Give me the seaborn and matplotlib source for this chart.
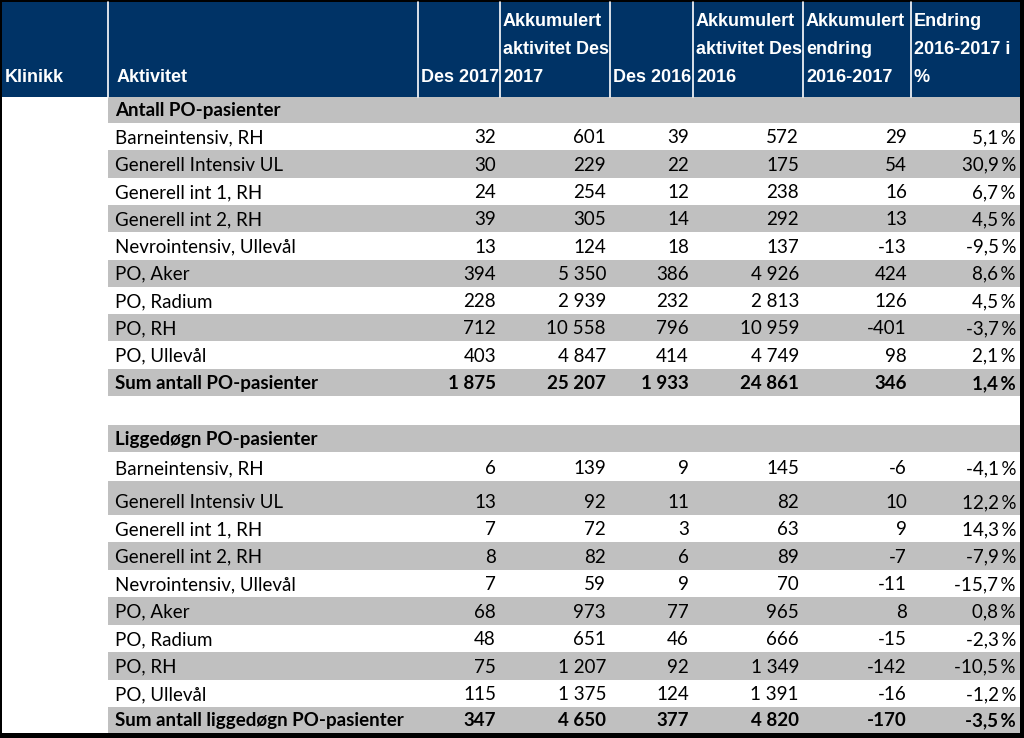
import seaborn as sns
import matplotlib.pyplot as plt
from matplotlib.patches import Rectangle
from matplotlib import font_manager

# data
activities = ["Barneintensiv, RH", "Generell Intensiv UL", "Generell int 1, RH",
              "Generell int 2, RH", "Nevrointensiv, Ullevål", "PO, Aker",
              "PO, Radium", "PO, RH", "PO, Ullevål"]

antall_des2017 = [32, 30, 24, 39, 13, 394, 228, 712, 403]
antall_akk2017 = [601, 229, 254, 305, 124, 5350, 2939, 10558, 4847]
antall_des2016 = [39, 22, 12, 14, 18, 386, 232, 796, 414]
antall_akk2016 = [572, 175, 238, 292, 137, 4926, 2813, 10959, 4749]
antall_endring = [29, 54, 16, 13, -13, 424, 126, -401, 98]
antall_pct = [5.1, 30.9, 6.7, 4.5, -9.5, 8.6, 4.5, -3.7, 2.1]
antall_sum = [1875, 25207, 1933, 24861, 346, 1.4]

ligg_des2017 = [6, 13, 7, 8, 7, 68, 48, 75, 115]
ligg_akk2017 = [139, 92, 72, 82, 59, 973, 651, 1207, 1375]
ligg_des2016 = [9, 11, 3, 6, 9, 77, 46, 92, 124]
ligg_akk2016 = [145, 82, 63, 89, 70, 965, 666, 1349, 1391]
ligg_endring = [-6, 10, 9, -7, -11, 8, -15, -142, -16]
ligg_pct = [-4.1, 12.2, 14.3, -7.9, -15.7, 0.8, -2.3, -10.5, -1.2]
ligg_sum = [347, 4650, 377, 4820, -170, -3.5]

headers = ["Klinikk", "Aktivitet", "Des 2017", "Akkumulert\naktivitet Des\n2017",
           "Des 2016", "Akkumulert\naktivitet Des\n2016",
           "Akkumulert\nendring\n2016-2017", "Endring\n2016-2017 i\n%"]

# layout (pixels)
col_edges = [2, 108, 418, 500, 610, 693, 803, 911, 1020]
header_top, header_bot = 2, 97
row_h1 = [26] + [27.3] * 10
row_h2 = [29, 27, 29, 34] + [27.43] * 7 + [26]

NAVY = "#003366"
GRAY = "#c0c0c0"

sns.set_theme(style="white")
body_font = ["Lato", "DejaVu Sans"]

# narrow header font if available, else plain Arial-metric font a bit smaller
installed = {f.name for f in font_manager.fontManager.ttflist}
if "Liberation Sans Narrow" in installed:
    head_font, head_size = ["Liberation Sans Narrow", "DejaVu Sans"], 15.5
else:
    head_font, head_size = ["Liberation Sans", "DejaVu Sans"], 13


def fmt_int(v):
    s = f"{abs(v):,}".replace(",", " ")
    return ("-" if v < 0 else "") + s


def fmt_pct(v):
    return f"{v:.1f}".replace(".", ",") + "\u2009%"


fig = plt.figure(figsize=(10.24, 7.38), dpi=100, facecolor="black")
ax = fig.add_axes([0, 0, 1, 1])
ax.set_xlim(0, 1024)
ax.set_ylim(738, 0)
ax.axis("off")
ax.add_patch(Rectangle((2, 2), 1018, 731, facecolor="white", edgecolor="none"))

# header
ax.add_patch(Rectangle((col_edges[0], header_top), col_edges[-1] - col_edges[0],
                       header_bot - header_top, facecolor=NAVY, edgecolor="none"))
for x in col_edges[1:-1]:
    ax.plot([x, x], [header_top, header_bot], color="white", lw=1.2)
for i, h in enumerate(headers):
    lines = h.split("\n")
    pad = 9 if i == 1 else 3
    for k, line in enumerate(lines):
        y = 78 - 28 * (len(lines) - 1 - k)
        ax.text(col_edges[i] + pad, y, line, color="white", fontsize=head_size,
                fontweight="bold", family=head_font, va="center", ha="left")

# body rows
blocks = [
    ("Antall PO-pasienter", "Sum antall PO-pasienter", row_h1, None,
     [antall_des2017, antall_akk2017, antall_des2016, antall_akk2016, antall_endring, antall_pct],
     antall_sum),
    ("Liggedøgn PO-pasienter", "Sum antall liggedøgn PO-pasienter", row_h2, 0,
     [ligg_des2017, ligg_akk2017, ligg_des2016, ligg_akk2016, ligg_endring, ligg_pct],
     ligg_sum),
]

y = header_bot
for title, sum_label, heights, blank, cols, sums in blocks:
    hs = list(heights)
    if blank is not None:
        y += hs.pop(0)
    rows = [(title, None, True)]
    rows += [(a, [c[j] for c in cols], False) for j, a in enumerate(activities)]
    rows += [(sum_label, sums, True)]
    for r, (label, vals, bold) in enumerate(rows):
        h = hs[r]
        if r % 2 == 0:
            ax.add_patch(Rectangle((col_edges[1], y), col_edges[-1] - col_edges[1], h,
                                   facecolor=GRAY, edgecolor="none"))
        ty = y + h - 12.5
        w = "bold" if bold else "normal"
        ax.text(col_edges[1] + 7, ty, label, fontsize=13.5, fontweight=w,
                family=body_font, va="center", ha="left", color="black")
        if vals is not None:
            for c, v in enumerate(vals):
                s = fmt_pct(v) if c == 5 else fmt_int(v)
                ax.text(col_edges[c + 3] - 4, ty, s, fontsize=13.5, fontweight=w,
                        family=body_font, va="center", ha="right", color="black")
        y += h

fig.savefig("out.png", dpi=100, facecolor="black")
